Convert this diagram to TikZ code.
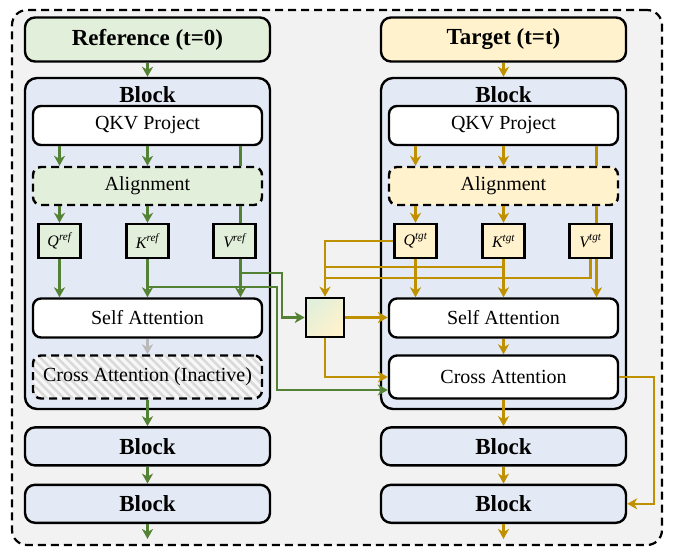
\documentclass[tikz,border=0pt]{standalone}
\usepackage{fontspec}
\setmainfont{Liberation Serif}
\usetikzlibrary{arrows.meta,positioning,patterns.meta}
\definecolor{gline}{HTML}{548235}
\definecolor{yline}{HTML}{BF9000}
\definecolor{gfill}{HTML}{E2EFDA}
\definecolor{yfill}{HTML}{FFF2CC}
\definecolor{bfill}{HTML}{E4EAF5}
\definecolor{frfill}{HTML}{F2F2F2}

\begin{document}
\begin{tikzpicture}[x=1pt, y=-1pt]
\useasboundingbox (0,0) rectangle (673,555);
\tikzstyle{fb}=[draw, rounded corners=8pt, minimum width=229pt, minimum height=39pt,
  inner sep=0pt, align=center, font=\fontsize{20}{22}\selectfont, line width=2.4pt, fill=white]
\tikzstyle{fh}=[draw, rounded corners=10pt, minimum width=245pt, minimum height=44pt,
  inner sep=0pt, align=center, font=\bfseries\fontsize{23}{25}\selectfont, line width=2.4pt]
\tikzstyle{fbig}=[draw, rounded corners=12pt, minimum width=245pt, minimum height=331pt,
  inner sep=0pt, line width=2.4pt, fill=bfill]
\tikzstyle{fq}=[draw, minimum width=42pt, minimum height=34pt, inner sep=0pt,
  line width=2.4pt, font=\fontsize{16}{18}\selectfont\itshape]
\tikzstyle{fdash}=[dash pattern=on 8pt off 5pt]
\node[draw, fdash, line width=2.2pt, rounded corners=15pt, fill=frfill,
  minimum width=650pt, minimum height=535pt] (frame) at (337,277.5) {};
% reference branch
\node[fh, fill=gfill] (lh) at (147.5,39.5) {Reference (t=0)};
\node[fbig] (lb) at (147.5,243.5) {};
\node[font=\bfseries\fontsize{23}{25}\selectfont] (ln) at (147.5,95) {Block};
\node[fb] (lp) at (147.5,125.5) {QKV Project};
\node[fb, fdash, fill=gfill, minimum height=38pt] (la) at (147.5,186) {Alignment};
\node[fq, fill=gfill] (lQ) at (59.5,241) {Q\textsuperscript{ref}};
\node[fq, fill=gfill] (lK) at (147.5,241) {K\textsuperscript{ref}};
\node[fq, fill=gfill] (lV) at (234.5,241) {V\textsuperscript{ref}};
\node[fb] (ls) at (147.5,318) {Self Attention};
\node[fb, fdash, preaction={fill=gray!6}, pattern={Lines[angle=-45,distance=6pt,line width=2.5pt]},
  pattern color=gray!30, minimum height=43pt] (lc) at (147.5,377) {Cross Attention (Inactive)};
\node[fh, fill=bfill, minimum height=38pt, below=16pt of lb] (lb2) {Block};
\node[fh, fill=bfill, minimum height=38pt, below=17pt of lb2] (lb3) {Block};
\coordinate (lo) at (147.5,539);
% target branch
\node[fh, fill=yfill] (rh) at (503.5,39.5) {Target (t=t)};
\node[fbig] (rb) at (503.5,243.5) {};
\node[font=\bfseries\fontsize{23}{25}\selectfont] (rn) at (503.5,95) {Block};
\node[fb] (rp) at (503.5,125.5) {QKV Project};
\node[fb, fdash, fill=yfill, minimum height=38pt] (ra) at (503.5,186) {Alignment};
\node[fq, fill=yfill] (rQ) at (415.5,241) {Q\textsuperscript{tgt}};
\node[fq, fill=yfill] (rK) at (503.5,241) {K\textsuperscript{tgt}};
\node[fq, fill=yfill] (rV) at (590.5,241) {V\textsuperscript{tgt}};
\node[fb] (rs) at (503.5,318) {Self Attention};
\node[fb, minimum height=43pt] (rc) at (503.5,377) {Cross Attention};
\node[fh, fill=bfill, minimum height=38pt, below=16pt of rb] (rb2) {Block};
\node[fh, fill=bfill, minimum height=38pt, below=17pt of rb2] (rb3) {Block};
\coordinate (ro) at (503.5,539);
% fusion
\node[draw, line width=2.6pt, minimum width=38pt, minimum height=39pt, inner sep=0pt,
  top color=gfill, bottom color=yfill, shading angle=45] (fu) at (325,317.5) {};
\coordinate (vb) at (282,273);
\coordinate (kb) at (277,287);
\coordinate (kj) at (325,267);
\coordinate (vj) at (325,278);
\tikzstyle{farrow}=[-{Stealth[length=10pt,width=11pt,inset=3pt]}, line width=2.4pt]
\tikzstyle{fline}=[line width=2.4pt]
\draw[farrow, gline] (lh) -- (lb);
\draw[farrow, gline] (lQ |- lp.south) -- (lQ |- la.north);
\draw[farrow, gline] (lp) -- (la);
\draw[fline, gline] ([xshift=6pt]lV.north |- lp.south) -- ([xshift=6pt]lV.north |- la.north);
\draw[farrow, gline] (lQ |- la.south) -- (lQ);
\draw[farrow, gline] (la) -- (lK);
\draw[fline, gline] ([xshift=6pt]lV.north |- la.south) -- ([xshift=6pt]lV.north);
\draw[farrow, gline] (lQ) -- (lQ |- ls.north);
\draw[farrow, gline] (lK) -- (ls);
\draw[farrow, gline] ([xshift=6pt]lV.south) -- ([xshift=6pt]lV.south |- ls.north);
\draw[farrow, gray!55] (ls) -- (lc);
\draw[farrow, gline] (lc) -- (lb2);
\draw[farrow, gline] (lb2) -- (lb3);
\draw[farrow, gline] (lb3) -- (lo);
\draw[farrow, gline] ([xshift=6pt]lV.south) |- (vb) |- (fu.west);
\draw[farrow, gline] (lK.south) |- (kb) |- ([yshift=-13pt]rc.west);
\draw[farrow, yline] (rh) -- (rb);
\draw[farrow, yline] (rQ |- rp.south) -- (rQ |- ra.north);
\draw[farrow, yline] (rp) -- (ra);
\draw[fline, yline] ([xshift=6pt]rV.north |- rp.south) -- ([xshift=6pt]rV.north |- ra.north);
\draw[farrow, yline] (rQ |- ra.south) -- (rQ);
\draw[farrow, yline] (ra) -- (rK);
\draw[fline, yline] ([xshift=6pt]rV.north |- ra.south) -- ([xshift=6pt]rV.north);
\draw[farrow, yline] (rQ) -- (rQ |- rs.north);
\draw[farrow, yline] (rK) -- (rs);
\draw[farrow, yline] ([xshift=6pt]rV.south) -- ([xshift=6pt]rV.south |- rs.north);
\draw[farrow, yline] (rQ.west) -| (fu.north);
\draw[fline, yline] (rK.south) |- (kj);
\draw[fline, yline] (rV.south) |- (vj);
\draw[farrow, yline] (fu.east) -- (fu.east -| rs.west);
\draw[farrow, yline] (fu.south) |- (rc.west);
\draw[farrow, yline] (rs) -- (rc);
\draw[farrow, yline] (rc) -- (rb2);
\draw[farrow, yline] (rb2) -- (rb3);
\draw[farrow, yline] (rb3) -- (ro);
\draw[farrow, yline] (rc.east) -- ++(35,0) |- (rb3.east);
\end{tikzpicture}
\end{document}
